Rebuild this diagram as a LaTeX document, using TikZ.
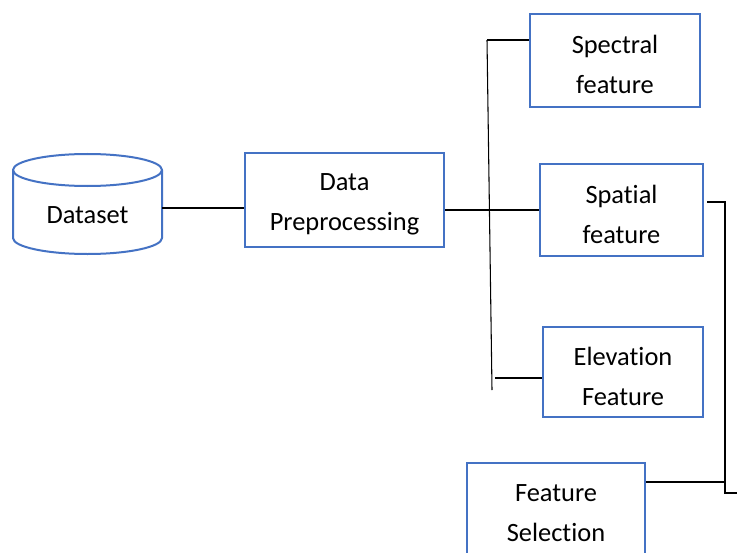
\documentclass[tikz,border=0pt]{standalone}
\usepackage{fontspec}
\setmainfont[Ligatures=NoCommon]{Carlito}
\definecolor{boxblue}{HTML}{4472C4}
\begin{document}
\begin{tikzpicture}[x=0.75pt,y=-0.75pt,
  box/.style={draw=boxblue, line width=1.5pt, fill=white, inner sep=0pt},
  lbl/.style={align=center, inner sep=0pt, font=\fontsize{19.8}{30}\selectfont},
  conn/.style={draw=black, line width=1.3pt},
  thin/.style={draw=black, line width=0.8pt}]
\useasboundingbox (0,0) rectangle (737,552);
% Dataset cylinder
\draw[boxblue, line width=1.5pt, fill=white]
  (13,170) -- (13,238) arc[start angle=180, end angle=360, x radius=74.5, y radius=-16]
  -- (162,170) arc[start angle=0, end angle=180, x radius=74.5, y radius=-16] -- cycle;
\draw[boxblue, line width=1.5pt] (13,170) arc[start angle=180, end angle=360, x radius=74.5, y radius=-16];
\node[inner sep=0pt, minimum width=111.75pt, minimum height=20pt,
  label={[lbl, yshift=-5.5pt]center:Dataset}] (ds) at (87.5,208) {};
% Boxes
\node[box, minimum width=149.25pt, minimum height=70.5pt,
  label={[lbl, yshift=-3pt]center:Data\\Preprocessing}] (pp) at (344.5,200) {};
\node[box, minimum width=127.5pt, minimum height=69.75pt,
  label={[lbl, yshift=-3pt]center:Spectral\\feature}] (sc) at (615,60.5) {};
\node[box, minimum width=122.25pt, minimum height=69pt,
  label={[lbl, yshift=-3.5pt]center:Spatial\\feature}] (sp) at (621.5,210) {};
\node[box, minimum width=120pt, minimum height=67.5pt,
  label={[lbl, yshift=-3.5pt]center:Elevation\\Feature}] (el) at (623,372) {};
\node[box, minimum width=133.5pt, minimum height=74.25pt,
  label={[lbl, yshift=-0.75pt]center:Feature\\Selection}] (fs) at (556,512.5) {};
% Connectors
\draw[conn] (ds.east) -- (pp.west |- ds.east);
\draw[conn] (pp.east |- sp.west) -- (sp.west);
\coordinate (bt) at (487,40);
\coordinate (bb) at (492,390);
\coordinate (eb) at (495,378);
\draw[thin] (bt) -- (bb);
\draw[conn] (bt) -- (bt -| sc.west);
\draw[conn] (eb) -- (eb -| el.west);
\coordinate (r1) at (707,202);
\coordinate (r2) at (725,202);
\coordinate (r3) at (725,493);
\coordinate (r4) at (737,493);
\draw[thin] (r1) -- (r2) -- (r3) -- (r4);
\coordinate (fj) at (725,482);
\draw[conn] (fs.east |- fj) -- (fj);
\end{tikzpicture}
\end{document}
